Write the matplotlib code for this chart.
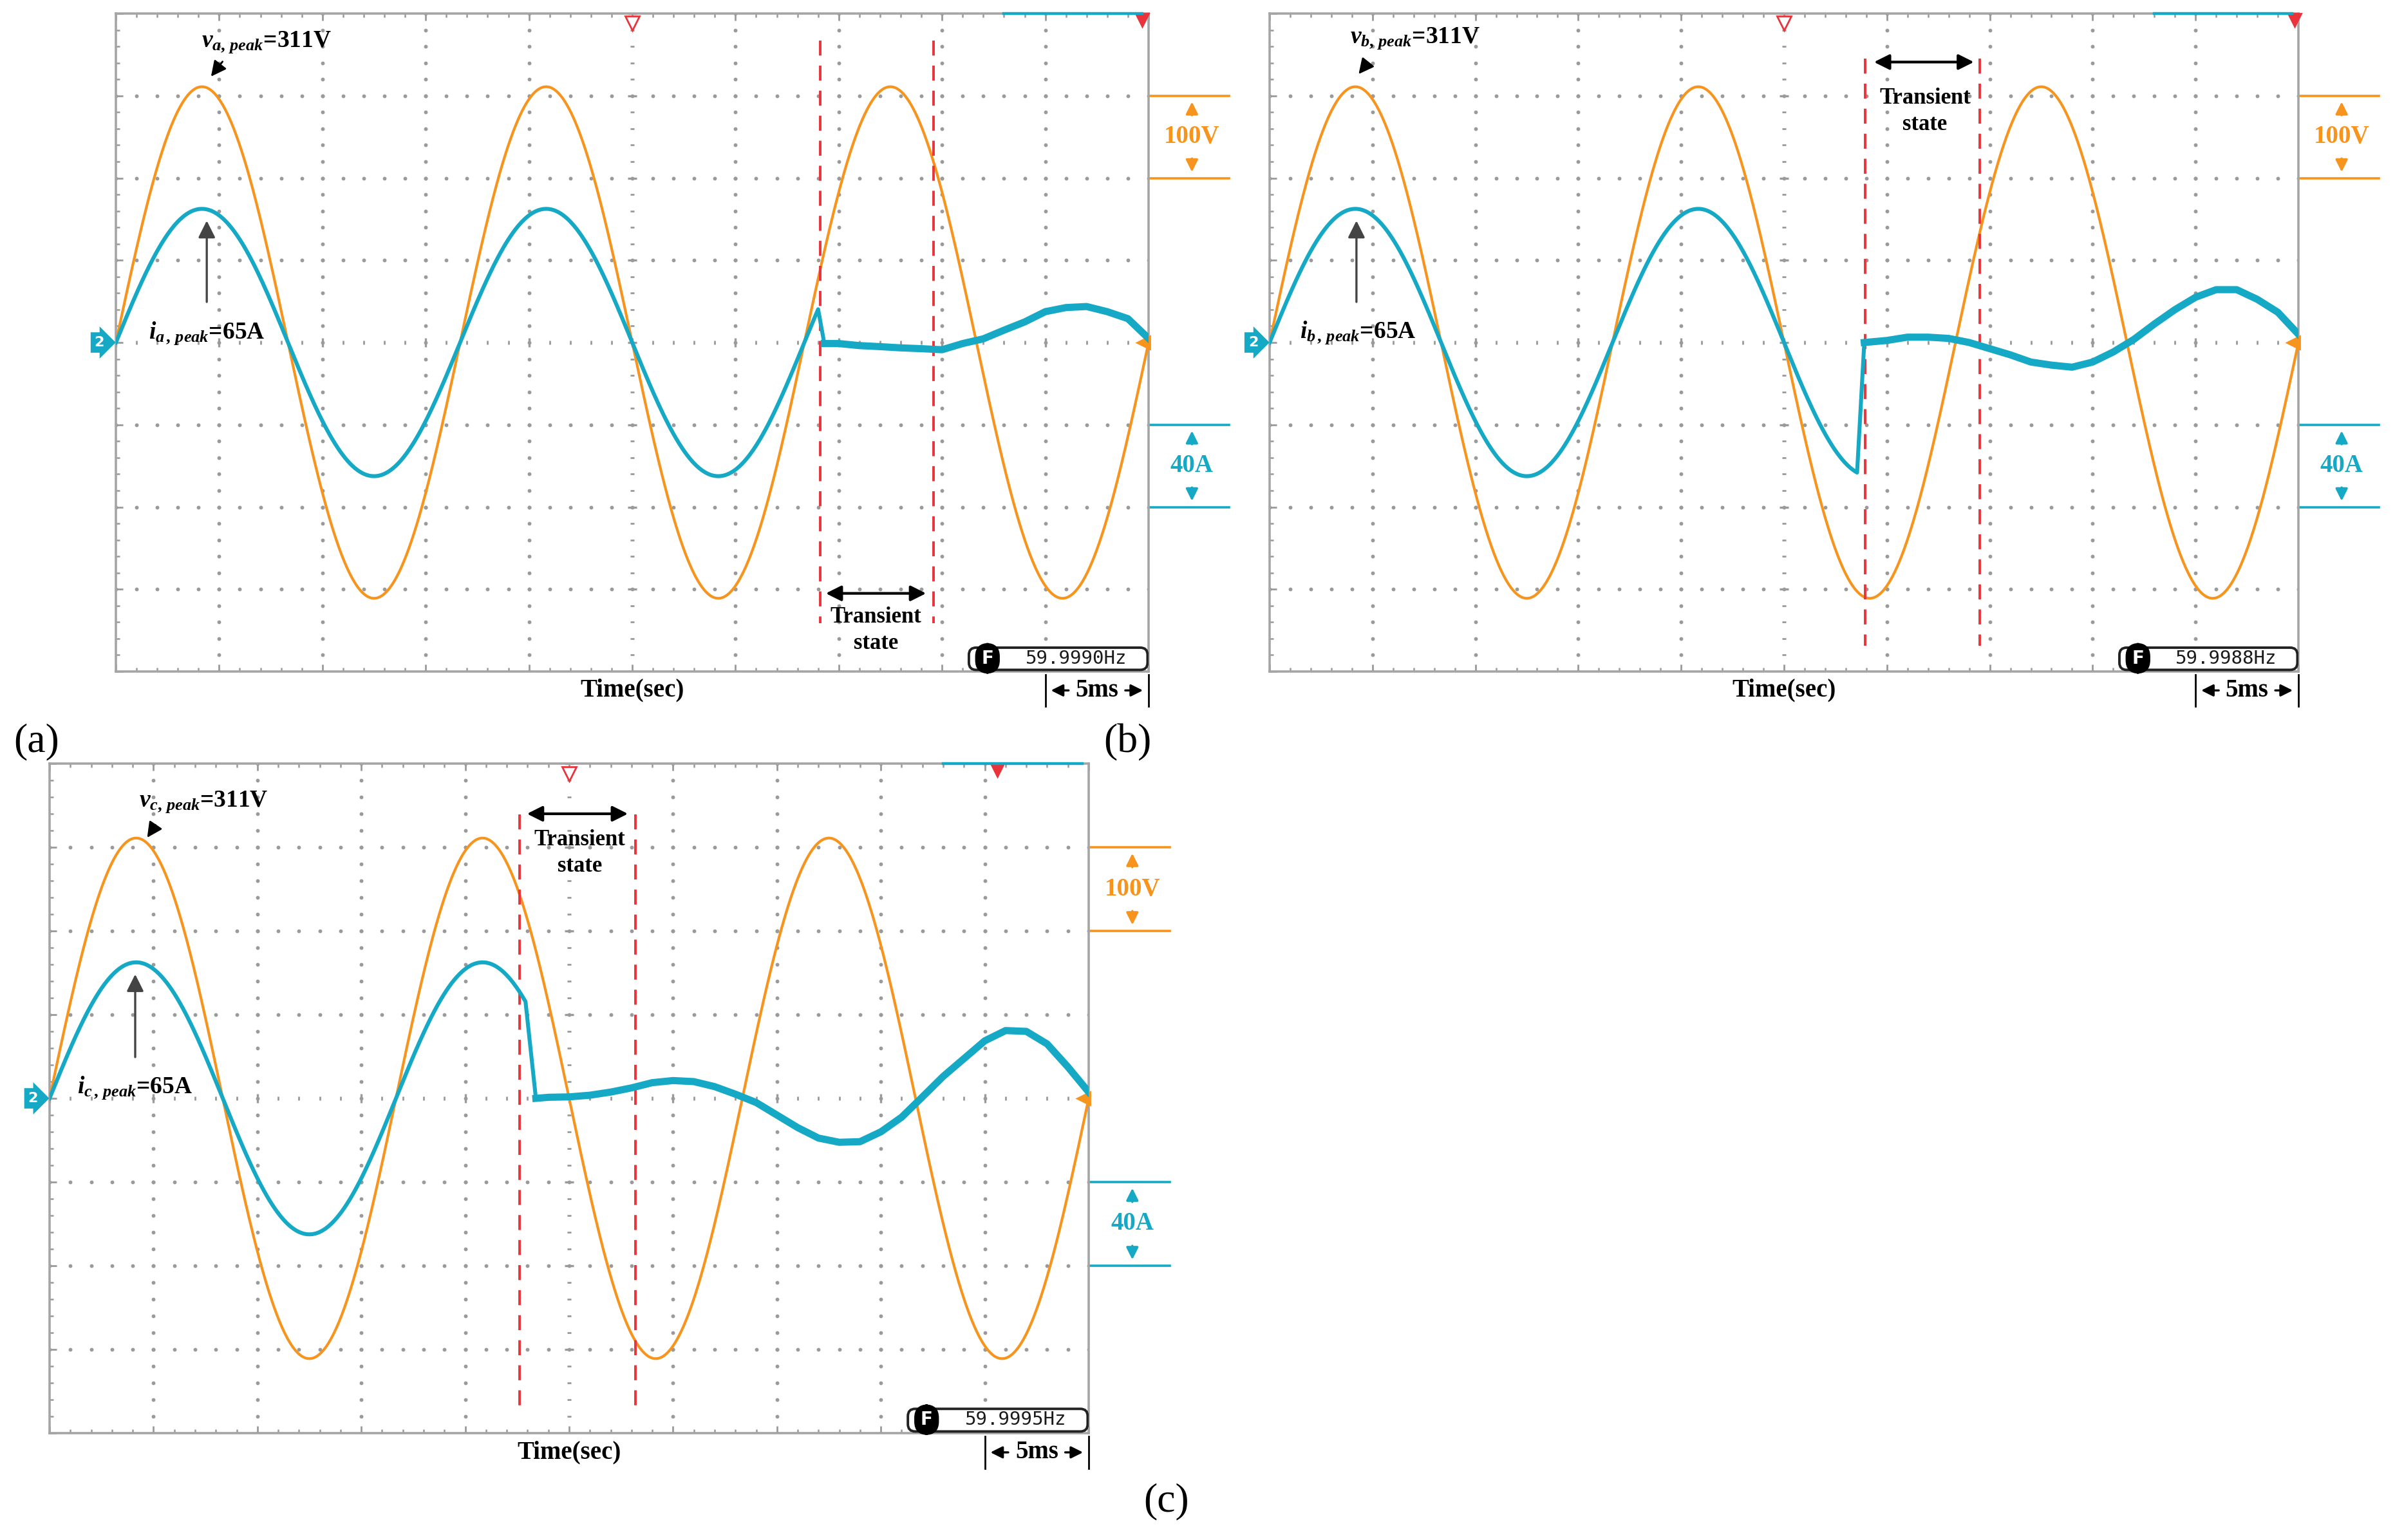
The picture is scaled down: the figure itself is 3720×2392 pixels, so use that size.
#!/usr/bin/env python3
"""oscilloscope captures of phase voltage and current through a transient"""
import numpy as np
import matplotlib.pyplot as plt
from matplotlib.patches import FancyBboxPatch

plt.rcParams['font.family'] = 'Liberation Serif'
plt.rcParams['mathtext.fontset'] = 'custom'
plt.rcParams['mathtext.it'] = 'Liberation Serif:italic:bold'
plt.rcParams['mathtext.rm'] = 'Liberation Serif:bold'

ORANGE = '#F7941D'
CYAN = '#16A9C5'
RED = '#E8343A'
GRID = '#9A9A9A'

LINE_FREQ = 60.0      # Hz
V_PEAK = 311.0        # V
I_PEAK = 65.0         # A
phases = ['a', 'b', 'c']
panel_tags = ['(a)', '(b)', '(c)']
freq_text = ['59.9990Hz', '59.9988Hz', '59.9995Hz']

# ms: current follows the sine until cut_start and is ~0 A at cut_end
cut_start = [34.0, 28.55, 22.9]
cut_end = [34.3, 28.9, 23.4]
# ms: dashed lines bounding the transient state
transient = [(34.1, 39.6), (28.95, 34.5), (22.6, 28.2)]

# residual current after the cut (ms, A)
post_t_a = [34.3, 35, 36, 37, 38, 39, 40, 41, 42, 43, 44, 45, 46, 47, 48,
            49, 50]
post_i_a = [-0.5, -0.5, -1.5, -2, -2.6, -3, -3.5, -0.5, 1.8, 6, 10, 15, 17,
            17.5, 15, 11.6, 2]
post_t_b = [28.9, 30, 31, 32, 33, 34, 35, 36, 37, 38, 39, 40, 41, 42, 43,
            44, 45, 46, 47, 48, 49, 50]
post_i_b = [0, 1, 2.6, 2.6, 2, 0, -3, -6, -9.5, -11, -12, -9.5, -4.6, 1.5,
            9, 16, 22, 25.7, 25.7, 21, 14.7, 4]
post_t_c = [23.4, 24, 25, 26, 27, 28, 29, 30, 31, 32, 33, 34, 35, 36, 37, 38,
            39, 40, 41, 42, 43, 44, 45, 46, 47, 48, 49, 50]
post_i_c = [0, 0.5, 0.7, 1.5, 3, 5, 7.5, 8.5, 8, 5.6, 2, -2, -8, -14, -19,
            -21, -20.7, -16, -9, 0.7, 10.5, 19, 27.5, 32.4, 32, 26, 15, 3]
post_t = [post_t_a, post_t_b, post_t_c]
post_i = [post_i_a, post_i_b, post_i_c]

# ---- placement of annotations (ms, V / A) ----
v_label = [(7.3, 365), (7.07, 370), (7.4, 354)]
v_arrow = [((5.27, 345), (4.5, 320)), ((4.76, 340), (4.22, 323)),
           ((5.2, 330), (4.6, 308))]
i_label = [(4.4, 4.5), (4.3, 4.7), (4.1, 5.0)]
i_arrow_x = [4.4, 4.22, 4.12]
tr_arrow = [(34.2, 39.4, -305), (29.2, 34.4, 341), (22.8, 28.0, 340)]
tr_text = [(36.8, -334, -366), (31.85, 297, 265), (25.5, 309, 277)]
dash_span = [(367, -341), (345, -369), (339, -370)]
trig_x = [49.7, 49.8, 45.6]


def graticule(ax):
    """dotted scope graticule, 10 x 8 divisions"""
    minor_x = np.arange(0, 50.01, 1.0)
    minor_y = np.arange(-400, 400.1, 20.0)
    for xg in [5, 10, 15, 20, 30, 35, 40, 45]:
        ax.plot(np.full(minor_y.size, xg), minor_y, ls='none', marker='o',
                ms=1.1, color=GRID, zorder=1)
    for yg in [-300, -200, -100, 100, 200, 300]:
        ax.plot(minor_x, np.full(minor_x.size, yg), ls='none', marker='o',
                ms=1.1, color=GRID, zorder=1)
    # centre crosshair drawn as tick marks
    ax.plot(minor_x, np.zeros(minor_x.size), ls='none', marker='|', ms=2.5,
            mew=1.0, color=GRID, zorder=1)
    ax.plot(np.arange(0, 51, 5), np.zeros(11), ls='none', marker='|', ms=5,
            mew=1.2, color=GRID, zorder=1)
    ax.plot(np.full(minor_y.size, 25), minor_y, ls='none', marker='_',
            ms=2.5, mew=1.0, color=GRID, zorder=1)
    ax.plot(np.full(9, 25), np.arange(-400, 401, 100), ls='none', marker='_',
            ms=5, mew=1.2, color=GRID, zorder=1)

    ax.set_xlim(0, 50)
    ax.set_ylim(-400, 400)
    ax.set_xticks(np.arange(0, 51, 5))
    ax.set_xticks(minor_x, minor=True)
    ax.set_yticks(np.arange(-400, 401, 100))
    ax.set_yticks(minor_y, minor=True)
    ax.tick_params(which='both', direction='in', top=True, right=True,
                   labelbottom=False, labelleft=False, color=GRID)
    ax.tick_params(which='major', length=4, width=1.0)
    ax.tick_params(which='minor', length=2.2, width=0.9)
    for sp in ax.spines.values():
        sp.set_color('#A5A5A5')
        sp.set_linewidth(1.3)


def panel(fig, rect, k):
    """one capture"""
    ax = fig.add_axes(rect)
    graticule(ax)
    ax2 = ax.twinx()
    ax2.set_ylim(-160, 160)
    ax2.axis('off')

    # voltage trace
    t = np.linspace(0, 50, 3000)
    v = V_PEAK * np.sin(2 * np.pi * LINE_FREQ * t / 1000)
    ax.plot(t, v, color=ORANGE, lw=1.5, zorder=3)

    # current trace: sine until the cut, then the residual
    tp = np.linspace(0, cut_start[k], 1500)
    ip = I_PEAK * np.sin(2 * np.pi * LINE_FREQ * tp / 1000)
    ax2.plot(np.concatenate([tp, post_t[k]]), np.concatenate([ip, post_i[k]]),
             color=CYAN, lw=2.2, zorder=4)
    ax2.plot(post_t[k], post_i[k], color=CYAN, lw=4.0, zorder=4,
             solid_joinstyle='round')

    # transient window
    y0, y1 = dash_span[k]
    for xd in transient[k]:
        ax.plot([xd, xd], [y0, y1], color=RED, lw=1.4, ls=(0, (6, 4)),
                zorder=5)
    xa, xb, ya = tr_arrow[k]
    ax.annotate('', xy=(xb, ya), xytext=(xa, ya),
                arrowprops=dict(arrowstyle='<|-|>', color='black', lw=1.5,
                                mutation_scale=18), zorder=6)
    xt, yt1, yt2 = tr_text[k]
    ax.text(xt, yt1, 'Transient', ha='center', va='center', fontsize=12.5,
            fontweight='bold', zorder=6)
    ax.text(xt, yt2, 'state', ha='center', va='center', fontsize=12.5,
            fontweight='bold', zorder=6)

    # peak labels
    p = phases[k]
    ax.text(*v_label[k], r'$v_{%s,\,peak}$=311V' % p, ha='center',
            va='center', fontsize=13.5, fontweight='bold', zorder=6)
    ax.annotate('', xy=v_arrow[k][1], xytext=v_arrow[k][0],
                arrowprops=dict(arrowstyle='-|>', color='black', lw=1.0,
                                mutation_scale=18), zorder=6)
    ax2.text(*i_label[k], r'$i_{%s\,,\,peak}$=65A' % p, ha='center',
             va='center', fontsize=13.5, fontweight='bold', zorder=6)
    ax2.annotate('', xy=(i_arrow_x[k], 61), xytext=(i_arrow_x[k], 18),
                 arrowprops=dict(arrowstyle='-|>', color='#444444', lw=1.2,
                                 mutation_scale=20), zorder=6)

    # scope markers
    ax.text(-0.8, 0, '2', color='white', fontsize=8, fontweight='bold',
            family='DejaVu Sans', ha='center', va='center', clip_on=False,
            bbox=dict(boxstyle='rarrow,pad=0.2', fc=CYAN, ec=CYAN))
    ax.plot(49.75, 0, marker='<', ms=7, color=ORANGE, clip_on=False,
            zorder=6)
    ax.plot(25, 388, marker='v', ms=8, mfc='white', mec=RED, mew=1.0,
            clip_on=False, zorder=6)
    ax.plot(trig_x[k], 392, marker='v', ms=7, color=RED, clip_on=False,
            zorder=6)
    ax.plot([43, 49.7], [400, 400], color=CYAN, lw=1.6, clip_on=False,
            zorder=6)

    # frequency read-out
    box = FancyBboxPatch((41.3, -398), 8.65, 27,
                         boxstyle='round,pad=0,rounding_size=0.35',
                         mutation_aspect=25, fc='white', ec='#222222',
                         lw=1.4, zorder=7)
    ax.add_patch(box)
    ax.text(42.2, -384, 'F', color='white', fontsize=10, fontweight='bold',
            family='DejaVu Sans', ha='center', va='center', zorder=8,
            bbox=dict(boxstyle='round,pad=0.3,rounding_size=0.7',
                      fc='black', ec='black'))
    ax.text(46.5, -384, freq_text[k], fontsize=10.5,
            family='DejaVu Sans Mono', ha='center', va='center',
            color='#1A1A1A', zorder=8)

    # time axis caption and 5 ms bracket
    ax.text(25, -423, 'Time(sec)', ha='center', va='center', fontsize=14,
            fontweight='bold', clip_on=False)
    for xb5 in (45, 50):
        ax.plot([xb5, xb5], [-404, -442], color='black', lw=1.0,
                clip_on=False)
    ax.text(47.5, -423, '5ms', ha='center', va='center', fontsize=14,
            fontweight='bold', clip_on=False)
    ax.annotate('', xy=(45.1, -423), xytext=(46.3, -423),
                arrowprops=dict(arrowstyle='-|>', color='black', lw=1.2,
                                mutation_scale=14), annotation_clip=False)
    ax.annotate('', xy=(49.9, -423), xytext=(48.7, -423),
                arrowprops=dict(arrowstyle='-|>', color='black', lw=1.2,
                                mutation_scale=14), annotation_clip=False)

    # volts / amps per division
    for yl in (300, 200):
        ax.plot([50.05, 53.9], [yl, yl], color=ORANGE, lw=1.3, clip_on=False)
    for yl in (-100, -200):
        ax.plot([50.05, 53.9], [yl, yl], color=CYAN, lw=1.3, clip_on=False)
    ax.text(52.1, 250, '100V', color=ORANGE, fontsize=14, fontweight='bold',
            ha='center', va='center', clip_on=False)
    ax.text(52.1, -150, '40A', color=CYAN, fontsize=14, fontweight='bold',
            ha='center', va='center', clip_on=False)
    arrs = [((52.1, 272), (52.1, 297), ORANGE),
            ((52.1, 228), (52.1, 203), ORANGE),
            ((52.1, -128), (52.1, -103), CYAN),
            ((52.1, -172), (52.1, -197), CYAN)]
    for tail, tip, c in arrs:
        ax.annotate('', xy=tip, xytext=tail, annotation_clip=False,
                    arrowprops=dict(arrowstyle='-|>', color=c, lw=1.3,
                                    mutation_scale=14))
    return ax


def main():
    """build the three panels"""
    fig = plt.figure(figsize=(18.6, 11.96), dpi=200)
    rects = [[0.04839, 0.56396, 0.43118, 0.42726],
             [0.53011, 0.56396, 0.42957, 0.42726],
             [0.0207, 0.0694, 0.43387, 0.43478]]
    for k, r in enumerate(rects):
        panel(fig, r, k)
    tag_pos = [(0.0153, 0.518), (0.4707, 0.518), (0.487, 0.025)]
    for tag, (x, y) in zip(panel_tags, tag_pos):
        fig.text(x, y, tag, fontsize=23, ha='center', va='center')
    fig.savefig('out.png', dpi=200, facecolor='white')


if __name__ == '__main__':
    main()
